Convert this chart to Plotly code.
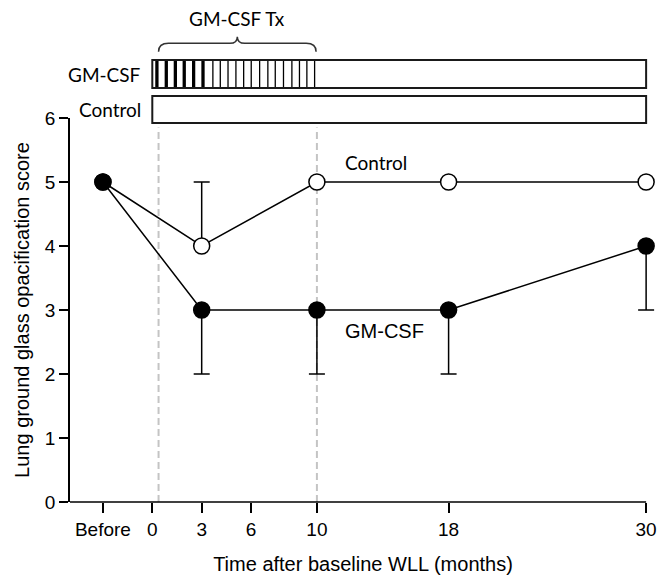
import plotly.graph_objects as go

# ---------------- data ----------------
x_vals = [-3, 3, 10, 18, 30]              # "Before" plotted at -3 months
x_tickvals = [-3, 0, 3, 6, 10, 18, 30]
x_ticktext = ["Before", "0", "3", "6", "10", "18", "30"]
y_tickvals = [0, 1, 2, 3, 4, 5, 6]

control_score = [5, 4, 5, 5, 5]
control_err_plus = [0, 1, 0, 0, 0]
control_err_minus = [0, 0, 0, 0, 0]

gmcsf_score = [5, 3, 3, 3, 4]
gmcsf_err_plus = [0, 0, 0, 0, 0]
gmcsf_err_minus = [0, 1, 1, 1, 1]

tx_start = 0.38      # GM-CSF treatment period (months)
tx_end = 10
follow_end = 30

# dosing schedule (months): thick = intensive, thin = maintenance
dose_thick = [0.28, 0.85, 1.40, 1.94, 2.51, 3.08]
dose_thin = [3.68, 4.13, 4.60, 5.08, 5.55, 6.01, 6.52, 7.02, 7.47, 7.97,
             8.48, 8.94, 9.39, 9.86]

ARIAL = "Liberation Sans, Arial, sans-serif"
CAL = "Lato, Noto Sans, sans-serif"

fig = go.Figure()

fig.add_trace(go.Scatter(
    x=x_vals, y=control_score, mode="lines+markers", name="Control",
    line=dict(color="black", width=1.5),
    marker=dict(size=16, color="white", line=dict(color="black", width=1.5)),
    error_y=dict(type="data", symmetric=False, array=control_err_plus,
                 arrayminus=control_err_minus, color="black", thickness=1.5, width=8),
    cliponaxis=False, showlegend=False))

fig.add_trace(go.Scatter(
    x=x_vals, y=gmcsf_score, mode="lines+markers", name="GM-CSF",
    line=dict(color="black", width=1.5),
    marker=dict(size=16, color="black", line=dict(color="black", width=1.5)),
    error_y=dict(type="data", symmetric=False, array=gmcsf_err_plus,
                 arrayminus=gmcsf_err_minus, color="black", thickness=1.5, width=8),
    cliponaxis=False, showlegend=False))

shapes = []
# dashed treatment start / end lines
for xv in (tx_start, tx_end):
    shapes.append(dict(type="line", xref="x", yref="y", x0=xv, x1=xv, y0=0, y1=5.85,
                       line=dict(color="#c4c4c4", width=2, dash="7px,4px"), layer="below"))
# x axis baseline
shapes.append(dict(type="line", xref="x", yref="paper", x0=-5, x1=follow_end, y0=0, y1=0,
                   line=dict(color="black", width=1.5)))

# schedule boxes
gm_y0, gm_y1 = 1.078, 1.151
ct_y0, ct_y1 = 0.987, 1.057
for xv in dose_thick:
    shapes.append(dict(type="line", xref="x", yref="paper", x0=xv, x1=xv, y0=gm_y0, y1=gm_y1,
                       line=dict(color="black", width=3.3)))
for xv in dose_thin:
    shapes.append(dict(type="line", xref="x", yref="paper", x0=xv, x1=xv, y0=gm_y0, y1=gm_y1,
                       line=dict(color="black", width=1.3)))
for (a, b) in ((gm_y0, gm_y1), (ct_y0, ct_y1)):
    shapes.append(dict(type="rect", xref="x", yref="paper", x0=0, x1=follow_end, y0=a, y1=b,
                       line=dict(color="#1a1a1a", width=2), fillcolor="rgba(0,0,0,0)"))

# curly brace over treatment period
bl, br = tx_start, 9.95
bm = (bl + br) / 2
ye, yh, yt = 1.1727, 1.1945, 1.2117
path = (f"M {bl},{ye} Q {bl},{yh} {bl+0.6},{yh} L {bm-0.45},{yh} "
        f"Q {bm},{yh} {bm},{yt} Q {bm},{yh} {bm+0.45},{yh} L {br-0.6},{yh} "
        f"Q {br},{yh} {br},{ye}")
shapes.append(dict(type="path", xref="x", yref="paper", path=path,
                   line=dict(color="#333333", width=1.5)))

annotations = [
    dict(text="GM-CSF Tx", x=bm, y=1.258, xref="x", yref="paper", showarrow=False,
         font=dict(family=CAL, size=19, color="black"), xanchor="center", yanchor="middle"),
    dict(text="GM-CSF", x=0, y=(gm_y0 + gm_y1) / 2, xref="x", yref="paper", showarrow=False,
         xshift=-9, font=dict(family=CAL, size=19, color="black"), xanchor="right", yanchor="middle"),
    dict(text="Control", x=0, y=(ct_y0 + ct_y1) / 2, xref="x", yref="paper", showarrow=False,
         xshift=-9, font=dict(family=CAL, size=19, color="black"), xanchor="right", yanchor="middle"),
    dict(text="Control", x=11.6, y=5.3, xref="x", yref="y", showarrow=False,
         font=dict(family=CAL, size=19, color="black"), xanchor="left", yanchor="middle"),
    dict(text="GM-CSF", x=11.6, y=2.67, xref="x", yref="y", showarrow=False,
         font=dict(family=ARIAL, size=20, color="black"), xanchor="left", yanchor="middle"),
]

fig.update_layout(
    width=658, height=578,
    margin=dict(l=70, r=2, t=118, b=76),
    paper_bgcolor="white", plot_bgcolor="white",
    shapes=shapes, annotations=annotations,
    xaxis=dict(range=[-5, 30.6], tickvals=x_tickvals, ticktext=x_ticktext,
               showline=False, showgrid=False, zeroline=False,
               ticks="outside", ticklen=10, tickwidth=1.5, tickcolor="black",
               tickfont=dict(family=ARIAL, size=19, color="black"),
               title=dict(text="Time after baseline WLL (months)", standoff=18,
                          font=dict(family=ARIAL, size=20, color="black"))),
    yaxis=dict(range=[0, 6], tickvals=y_tickvals,
               showline=True, linecolor="black", linewidth=1.5, mirror=False,
               showgrid=False, zeroline=False,
               ticks="outside", ticklen=9, tickwidth=1.5, tickcolor="black",
               tickfont=dict(family=ARIAL, size=19, color="black"),
               title=dict(text="Lung ground glass opacification score", standoff=10,
                          font=dict(family=ARIAL, size=20, color="black"))),
)

fig.write_html("out.html")
